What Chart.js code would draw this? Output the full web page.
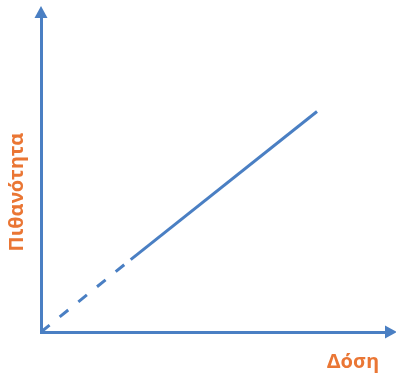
<!DOCTYPE html>
<html>
<head>
<meta charset="utf-8">
<script src="https://cdn.jsdelivr.net/npm/chart.js@4"></script>
<style>
    html, body { margin: 0; padding: 0; background: #fff; }
    #wrap { width: 396px; height: 380px; }
</style>
</head>
<body>
<div id="wrap"><canvas id="doseChart"></canvas></div>
<script>
/** dose_chart.js */
/**
 * 1. Data
 * 2. Plugins
 * 3. Chart
 */

/** Data */
// dose on x, probability on y; first segment is the extrapolated (dashed) part
const doseValues = [0, 2.6, 8];
const probValues = [0, 2.3, 7];
const xTitle = 'Δόση';
const yTitle = 'Πιθανότητα';

const AXIS_BLUE = '#4a7fc3';
const TITLE_ORANGE = '#ea7634';

/** Plugins */
let Local = {
    // arrow heads at the end of both axes
    drawArrow: function (ctx, x, y, dir) {
        ctx.beginPath();
        if (dir === 'up') {
            ctx.moveTo(x, y - 11);
            ctx.lineTo(x - 6.5, y + 1);
            ctx.lineTo(x + 6.5, y + 1);
        } else {
            ctx.moveTo(x + 11, y);
            ctx.lineTo(x - 1, y - 6.5);
            ctx.lineTo(x - 1, y + 6.5);
        }
        ctx.closePath();
        ctx.fill();
    },
    axisDecor: {
        id: 'axisDecor',
        afterDraw: function (chart) {
            const ctx = chart.ctx;
            const area = chart.chartArea;
            const xs = chart.scales.x;
            const ys = chart.scales.y;
            const left = xs.getPixelForValue(xs.min);
            const bottom = ys.getPixelForValue(ys.min);
            ctx.save();
            ctx.fillStyle = AXIS_BLUE;
            Local.drawArrow(ctx, left, area.top, 'up');
            Local.drawArrow(ctx, area.right, bottom, 'right');

            ctx.fillStyle = TITLE_ORANGE;
            ctx.font = 'bold 20px "Noto Sans"';
            ctx.textBaseline = 'middle';
            ctx.textAlign = 'right';
            ctx.fillText(xTitle, area.right - 7, bottom + 30);

            ctx.translate(left - 24, bottom - 140);
            ctx.rotate(-Math.PI / 2);
            ctx.textAlign = 'center';
            ctx.fillText(yTitle, 0, 0);
            ctx.restore();
        }
    }
};

/** Chart */
const points = doseValues.map((d, i) => ({ x: d, y: probValues[i] }));

new Chart(document.getElementById('doseChart'), {
    type: 'line',
    data: {
        datasets: [{
            data: points,
            borderColor: AXIS_BLUE,
            borderWidth: 3,
            pointRadius: 0,
            clip: false,
            segment: {
                borderDash: c => c.p0DataIndex === 0 ? [11, 13] : undefined
            }
        }]
    },
    options: {
        responsive: true,
        maintainAspectRatio: false,
        animation: false,
        layout: { padding: { left: 41, right: 10, top: 17, bottom: 48 } },
        plugins: { legend: { display: false }, tooltip: { enabled: false } },
        scales: {
            x: {
                type: 'linear', min: 0, max: 10,
                ticks: { display: false },
                grid: { display: false, drawTicks: false },
                border: { color: AXIS_BLUE, width: 3 }
            },
            y: {
                type: 'linear', min: 0, max: 10,
                ticks: { display: false },
                grid: { display: false, drawTicks: false },
                border: { color: AXIS_BLUE, width: 3 }
            }
        }
    },
    plugins: [Local.axisDecor]
});
</script>
</body>
</html>
